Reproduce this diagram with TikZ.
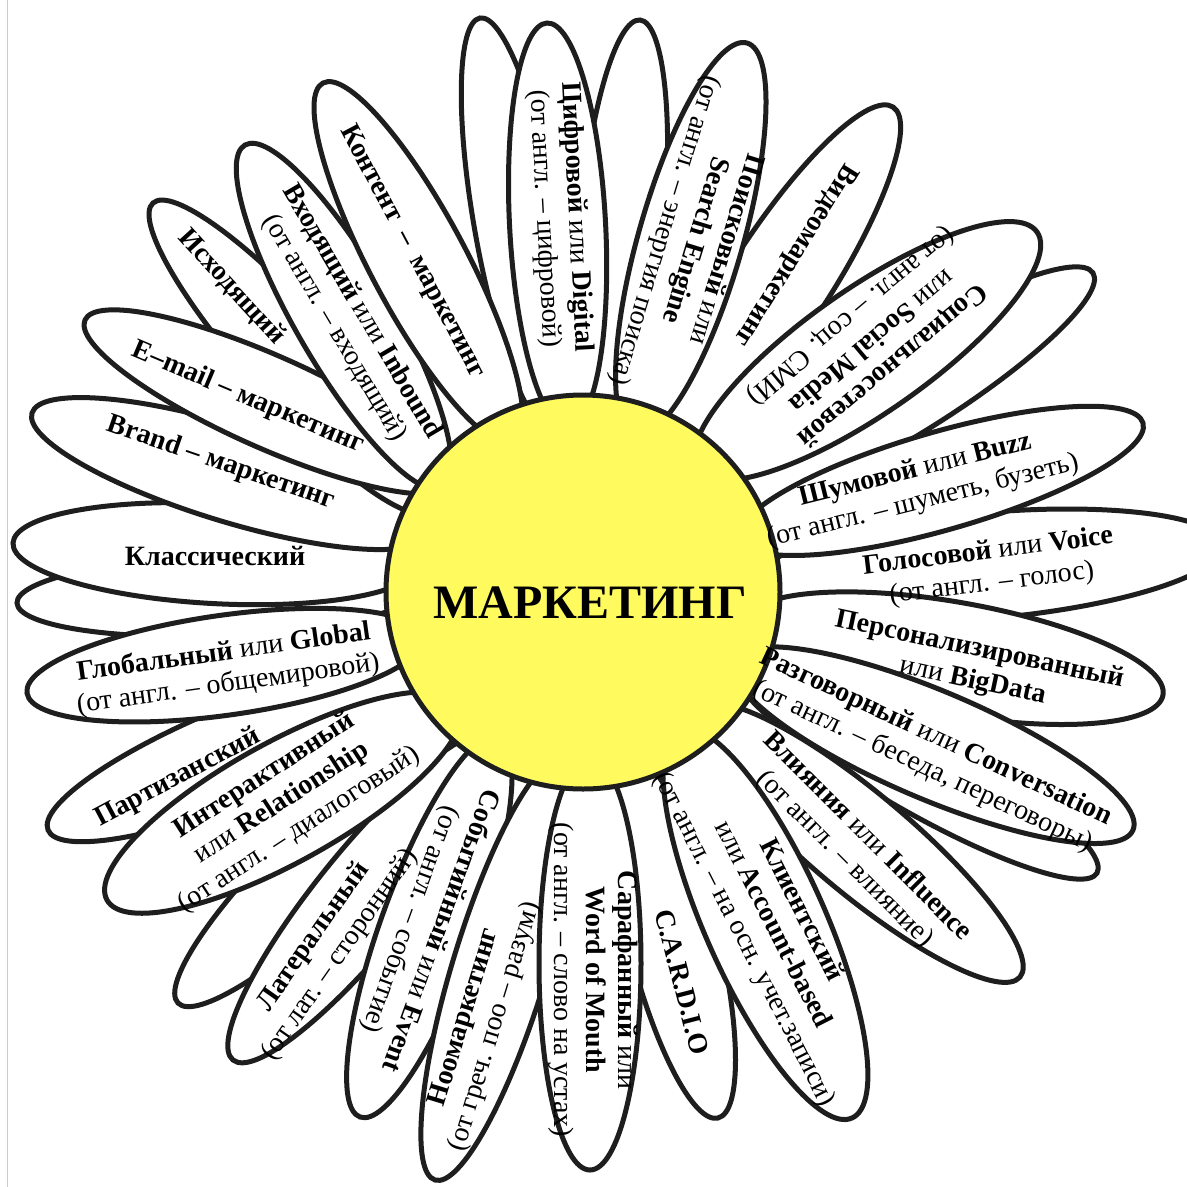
\documentclass[tikz,border=0pt]{standalone}
\usepackage{fontspec}
\setmainfont{Liberation Serif}
\usetikzlibrary{shapes.geometric}
\definecolor{petalline}{HTML}{1E1E1E}
\definecolor{sun}{RGB}{255,251,95}
\tikzset{
  petal/.style={ellipse, draw=petalline, fill=white, line width=5pt, inner sep=0pt},
  lbl/.style={align=center, font=\fontsize{28}{32}\selectfont, inner sep=0pt},
  core/.style={circle, draw=petalline, fill=sun, line width=5pt, inner sep=0pt, minimum size=394pt},
  title/.style={font=\fontsize{48}{52}\selectfont\bfseries, inner sep=0pt}
}
% name, tip x, tip y, outward angle, half width
\newcommand\petal[5]{%
  \pgfmathsetmacro\pL{veclen(#2-583,#3-592)}%
  \pgfmathsetmacro\pa{(\pL-165)/2}%
  \path (#2,#3) ++(#4+180:\pa pt) node[petal, rotate=#4, minimum width=2*\pa pt, minimum height=2*#5 pt] (#1) {};}
\begin{document}
\begin{tikzpicture}[x=1pt,y=-1pt]
\useasboundingbox (0,0) rectangle (1187,1187);
\fill[white] (0,0) rectangle (1187,1187);
\draw[black!20, line width=1pt] (7,0) -- (7,1187);
% back petals
\petal{backA}{480}{18}{100}{42}
\petal{backB}{640}{20}{85}{42}
\petal{backD}{1093}{273}{32}{45}
\petal{backC}{1097}{873}{-30}{42}
\petal{backL}{17}{603}{182}{40}
\petal{backE}{178}{1003}{-136}{45}
% front petals
\petal{cifr}{547}{23}{93}{48}
\petal{video}{893}{107}{57}{50}
\petal{poisk}{747}{43}{74}{52}
\petal{social}{1037}{232}{35}{62}
\petal{golos}{1222}{545}{5}{53}
\petal{shum}{1143}{423}{16}{49}
\petal{pers}{1163}{695}{-10}{56}
\petal{razg}{1133}{830}{-23}{54}
\petal{vliy}{1020}{977}{-40}{50}
\petal{cardio}{718}{1118}{-76}{45}
\petal{klient}{852}{1118}{-66}{60}
\petal{lat}{233}{1060}{-129}{48}
\petal{sobyt}{360}{1117}{-110}{48}
\petal{noo}{435}{1180}{-107}{47}
\petal{saraf}{590}{1170}{-90}{51}
\petal{partiz}{48}{830}{-158}{48}
\petal{inter}{107}{900}{-151}{60}
\petal{global}{27}{693}{-172}{50}
\petal{klass}{13}{543}{177}{50}
\petal{brand}{32}{413}{163}{48}
\petal{ishod}{153}{203}{132}{45}
\petal{email}{85}{320}{156}{46}
\petal{vhod}{245}{145}{120}{49}
\petal{kontent}{323}{83}{118}{48}
% centre
\node[core] (sun) at (583,592) {};
\node[title] (ttl) at (590,603) {МАРКЕТИНГ};
% labels
\node[lbl, rotate=-87] (tcifr) at (560,218) {\textbf{Цифровой} или \textbf{Digital}\\(от англ. – цифровой)};
\node[lbl, rotate=-107] (tpoisk) at (695,240) {\textbf{Поисковый} или\\\textbf{Search Engine}\\(от англ. – энергия поиска)};
\node[lbl, rotate=-122] (tvideo) at (795,255) {\textbf{Видеомаркетинг}};
\node[lbl, rotate=-140] (tsocial) at (871,340) {\textbf{Социальносетевой}\\или \textbf{Social Media}\\(от англ. – соц. СМИ)};
\node[lbl, rotate=14] (tshum) at (919,486) {\textbf{Шумовой} или \textbf{Buzz}\\(от англ. – шуметь, бузеть)};
\node[lbl, rotate=7] (tgolos) at (990,568) {\textbf{Голосовой} или \textbf{Voice}\\(от англ. – голос)};
\node[lbl, rotate=-12] (tpers) at (976,666) {\textbf{Персонализированный}\\или \textbf{BigData}};
\node[lbl, rotate=-25] (trazg) at (929,752) {\textbf{Разговорный} или \textbf{Conversation}\\(от англ. – беседа, переговоры)};
\node[lbl, rotate=-45] (tvliy) at (856,848) {\textbf{Влияния} или \textbf{Influence}\\(от англ. – влияние)};
\node[lbl, rotate=-63] (tklient) at (772,925) {\textbf{Клиентский}\\или \textbf{Account-based}\\(от англ. – на осн. учет.записи)};
\node[lbl, rotate=-75.5] (tcardio) at (682,982) {\textbf{C.A.R.D.I.O}};
\node[lbl, rotate=-90] (tsaraf) at (593,980) {\textbf{Сарафанный} или\\\textbf{Word of Mouth}\\(от англ. – слово на устах)};
\node[lbl, rotate=73] (tnoo) at (480,1022) {\textbf{Ноомаркетинг}\\(от греч. поо – разум)};
\node[lbl, rotate=-110] (tsobyt) at (425,925) {\textbf{Событийный} или \textbf{Event}\\(от англ. – событие)};
\node[lbl, rotate=55] (tlat) at (327,946) {\textbf{Латеральный}\\(от лат. – сторонний)};
\node[lbl, rotate=33] (tinter) at (282,803) {\textbf{Интерактивный}\\или \textbf{Relationship}\\(от англ. – диалоговый)};
\node[lbl, rotate=28] (tpartiz) at (178,778) {\textbf{Партизанский}};
\node[lbl, rotate=8] (tglobal) at (226,669) {\textbf{Глобальный} или \textbf{Global}\\(от англ. – общемировой)};
\node[lbl] (tklass) at (215,556) {\textbf{Классический}};
\node[lbl, rotate=-19] (tbrand) at (221,463) {\textbf{Brand – маркетинг}};
\node[lbl, rotate=-23] (temail) at (248,398) {\textbf{E–mail – маркетинг}};
\node[lbl, rotate=-47.6] (tishod) at (232,287) {\textbf{Исходящий}};
\node[lbl, rotate=-59.5] (tvhod) at (348,320) {\textbf{Входящий} или \textbf{Inbound}\\(от англ. – входящий)};
\node[lbl, rotate=-62] (tkontent) at (412,252) {\textbf{Контент\ \ –\ \ маркетинг}};
\end{tikzpicture}
\end{document}
